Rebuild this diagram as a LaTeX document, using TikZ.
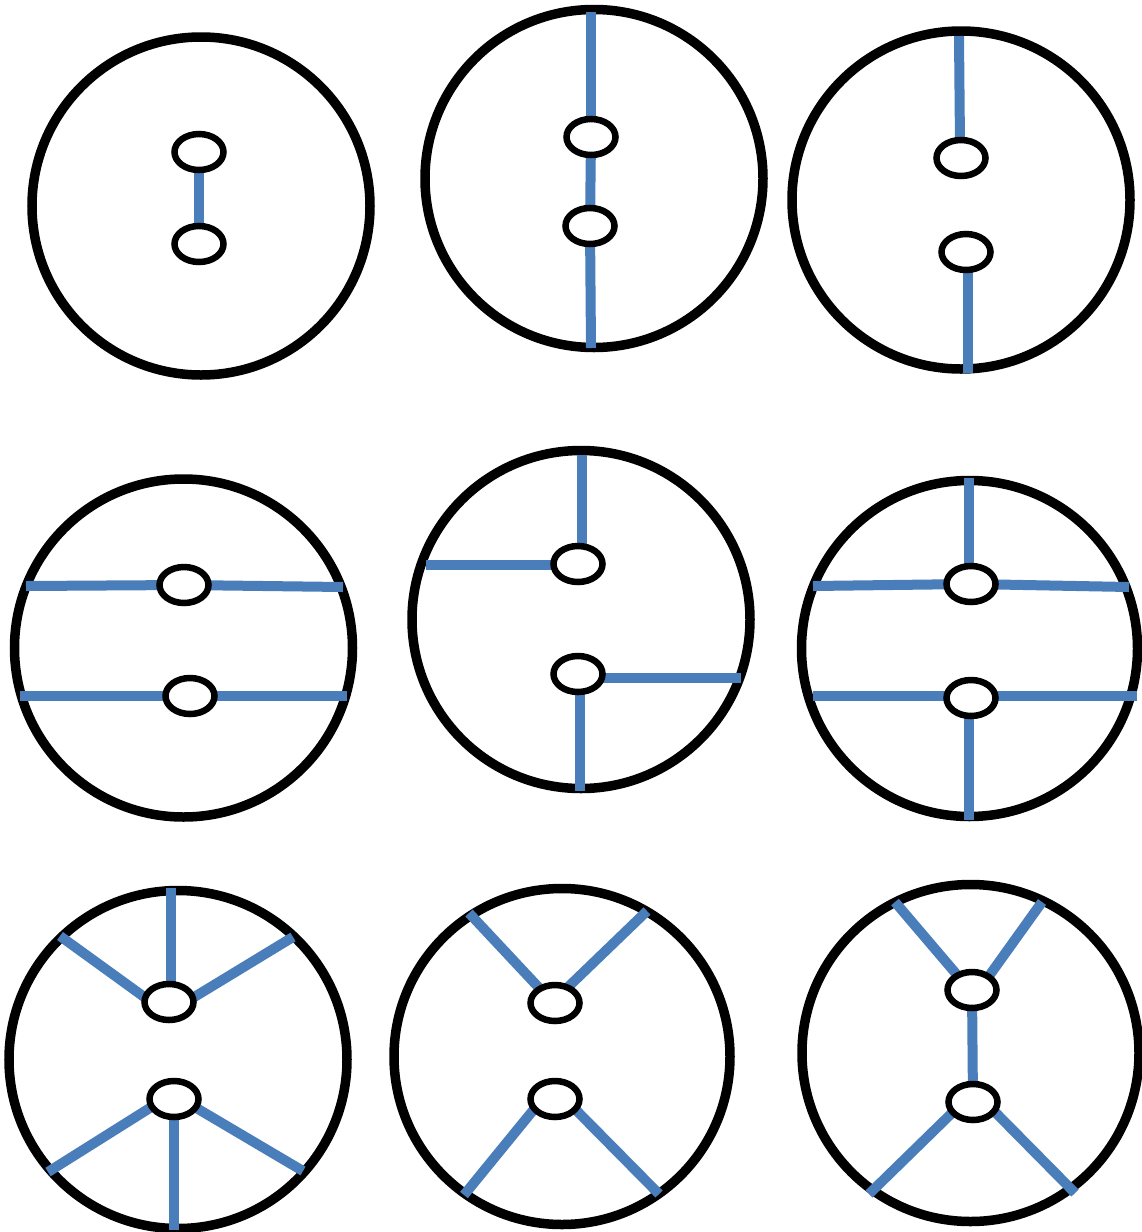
\documentclass[tikz,border=0pt]{standalone}
\definecolor{lineblue}{RGB}{74,126,187}
\begin{document}
\begin{tikzpicture}[x=1pt,y=-1pt,
  bigc/.style={draw=black,line width=9.5pt},
  hole/.style={draw=black,fill=white,line width=6.5pt},
  link/.style={draw=lineblue,line width=10pt}]
\useasboundingbox (0,0) rectangle (1141,1232);
% big circles
\draw[bigc] (201,206) circle (169);
\draw[bigc] (594,178.5) circle (169);
\draw[bigc] (961,200) circle (169);
\draw[bigc] (183.5,648) circle (169);
\draw[bigc] (581,619.5) circle (169);
\draw[bigc] (969.5,648.5) circle (168);
\draw[bigc] (178,1059.5) circle (169);
\draw[bigc] (562,1056.5) circle (168);
\draw[bigc] (970.5,1053) circle (168.5);
% hole coordinates
\coordinate (a1) at (199,152); \coordinate (a2) at (199,244);
\coordinate (b1) at (591,137); \coordinate (b2) at (590,226);
\coordinate (c1) at (961,158); \coordinate (c2) at (966,252);
\coordinate (d1) at (184,585); \coordinate (d2) at (190,696);
\coordinate (e1) at (578,564); \coordinate (e2) at (578,674);
\coordinate (f1) at (971,584); \coordinate (f2) at (971,698);
\coordinate (g1) at (169,1002); \coordinate (g2) at (174,1099);
\coordinate (h1) at (555,1003); \coordinate (h2) at (555,1099);
\coordinate (i1) at (972,990); \coordinate (i2) at (973,1102);
% links
\draw[link] (a1) -- (a2);
\draw[link] (591,12) -- (b1); \draw[link] (b1) -- (b2); \draw[link] (b2) -- (591,348);
\draw[link] (959,36) -- (960,145); \draw[link] (968,270) -- (968,373);
\draw[link] (26,586) -- (d1); \draw[link] (d1) -- (343,587);
\draw[link] (20,696) -- (d2); \draw[link] (d2) -- (347,696);
\draw[link] (582,455) -- (582,548); \draw[link] (426,565) -- (559,565);
\draw[link] (597,678) -- (741,678); \draw[link] (580,688) -- (580,791);
\draw[link] (969,478) -- (969,568); \draw[link] (813,586) -- (f1); \draw[link] (f1) -- (1129,587);
\draw[link] (813,696) -- (950,696); \draw[link] (990,696) -- (1137,696); \draw[link] (969,716) -- (969,820);
\draw[link] (171,888) -- (171,986); \draw[link] (60,936) -- (147,999); \draw[link] (191,999) -- (293,937);
\draw[link] (48,1172) -- (153,1106); \draw[link] (174,1112) -- (174,1230); \draw[link] (193,1106) -- (303,1171);
\draw[link] (469,913) -- (542,991); \draw[link] (566,989) -- (647,911);
\draw[link] (464,1195) -- (535,1108); \draw[link] (574,1108) -- (659,1194);
\draw[link] (895,902) -- (958,976); \draw[link] (989,976) -- (1042,902);
\draw[link] (i1) -- (i2);
\draw[link] (869,1194) -- (953,1112); \draw[link] (994,1111) -- (1075,1193);
% holes
\foreach \p in {a1,a2,b1,b2,c1,c2,d1,d2,e1,e2,f1,f2,g1,g2,h1,h2,i1,i2}
  \draw[hole] (\p) ellipse (24.5 and 18);
\end{tikzpicture}
\end{document}
